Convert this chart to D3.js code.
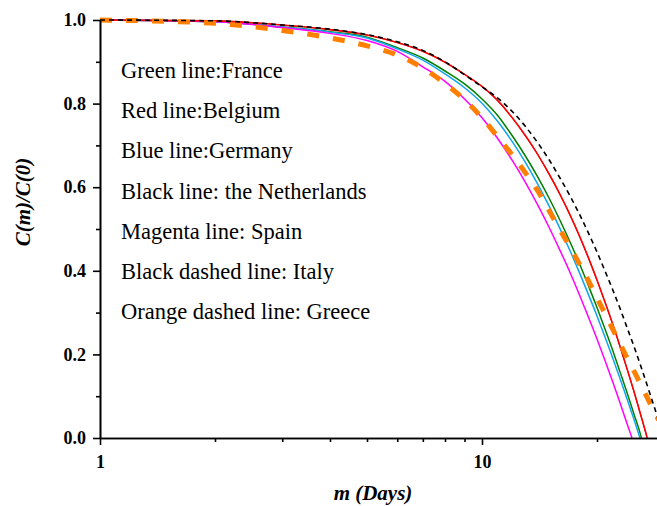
<!DOCTYPE html>
<html>
<head>
    <meta charset="utf-8">
    <title>C(m)/C(0)</title>
    <script src="https://d3js.org/d3.v7.min.js"></script>
    <style>
        body { margin: 0; background: #fff; }
        text { font-family: "Liberation Serif", "Times New Roman", serif; }
    </style>
</head>
<body>
<div id="chart"></div>
<script type="text/javascript">

    // valores: m (dias) e C(m)/C(0) para cada país
    const mFrance = [1,2,3,4,5,6,7,8,9,10,11,12,13,14,15,16,17,18,19,20,21,22,23,24,25,26,26.14];
    const cFrance = [1.000,0.996,0.983,0.972,0.959,0.934,0.909,0.878,0.847,0.811,0.771,0.723,0.674,0.624,0.573,0.521,0.469,0.417,0.364,0.312,0.260,0.209,0.157,0.107,0.057,0.008,0];

    const mBelgium = [1,2,3,4,5,6,7,8,9,10,11,12,13,14,15,16,17,18,19,20,21,22,23,24,25,26,27,27.07];
    const cBelgium = [1.000,0.998,0.988,0.977,0.964,0.946,0.925,0.899,0.870,0.841,0.807,0.766,0.723,0.678,0.631,0.583,0.534,0.483,0.431,0.378,0.325,0.272,0.218,0.164,0.111,0.057,0.004,0];

    const mGermany = [1,2,3,4,5,6,7,8,9,10,11,12,13,14,15,16,17,18,19,20,21,22,23,24,25,25.92];
    const cGermany = [1.000,0.996,0.983,0.971,0.957,0.931,0.904,0.871,0.838,0.801,0.757,0.709,0.659,0.607,0.554,0.501,0.448,0.395,0.343,0.292,0.241,0.191,0.141,0.092,0.044,0];

    // a linha da Holanda fica quase toda por baixo da vermelha
    const mNetherlands = [1,2,3,4,5,6,7,8,9,10,11,12,13,14,15,16,17,18,19,20,21,22,23,24,25,26,27,27.06];
    const cNetherlands = [1.000,0.998,0.988,0.977,0.964,0.946,0.925,0.899,0.870,0.841,0.806,0.766,0.722,0.678,0.630,0.583,0.533,0.483,0.430,0.378,0.324,0.272,0.217,0.164,0.110,0.057,0.003,0];

    const mSpain = [1,2,3,4,5,6,7,8,9,10,11,12,13,14,15,16,17,18,19,20,21,22,23,24,24.7];
    const cSpain = [1.000,0.996,0.982,0.968,0.951,0.925,0.888,0.853,0.811,0.766,0.716,0.664,0.611,0.557,0.503,0.449,0.396,0.342,0.289,0.237,0.185,0.134,0.083,0.033,0];

    const mItaly = [1,2,3,4,5,6,7,8,9,10,11,12,13,14,15,16,17,18,19,20,21,22,23,24,25,26,27,28,29];
    const cItaly = [1.000,0.998,0.988,0.978,0.965,0.948,0.927,0.900,0.869,0.840,0.813,0.781,0.745,0.706,0.665,0.622,0.579,0.535,0.490,0.445,0.399,0.354,0.309,0.263,0.219,0.174,0.129,0.085,0.042];

    const mGreece = [1,2,3,4,5,6,7,8,9,10,11,12,13,14,15,16,17,18,19,20,21,22,23,24,25,26,27,28,29];
    const cGreece = [1.000,0.992,0.975,0.957,0.938,0.916,0.885,0.848,0.809,0.766,0.720,0.677,0.634,0.591,0.543,0.498,0.457,0.416,0.376,0.335,0.297,0.260,0.225,0.191,0.160,0.129,0.099,0.070,0.043];

    const yMajor = [0, 0.2, 0.4, 0.6, 0.8, 1.0];
    const yMinor = [0.1, 0.3, 0.5, 0.7, 0.9];
    const xMajor = [1, 10];
    const xMinor = [2, 3, 4, 5, 6, 7, 8, 9, 20];

    const notes = [
        "Green line:France",
        "Red line:Belgium",
        "Blue line:Germany",
        "Black line: the Netherlands",
        "Magenta line: Spain",
        "Black dashed line: Italy",
        "Orange dashed line: Greece"
    ];

    // ordem de desenho: o que fica por baixo primeiro
    const series = [
        {m: mNetherlands, c: cNetherlands, color: "#000000", width: 0.8, dash: null},
        {m: mFrance, c: cFrance, color: "#008000", width: 1.5, dash: null},
        {m: mGermany, c: cGermany, color: "#10a4f0", width: 1.5, dash: null},
        {m: mSpain, c: cSpain, color: "#ff00ff", width: 1.5, dash: null},
        {m: mBelgium, c: cBelgium, color: "#ff0000", width: 1.6, dash: null},
        {m: mGreece, c: cGreece, color: "#ff8000", width: 5, dash: "12,14"},
        {m: mItaly, c: cItaly, color: "#000000", width: 1.6, dash: "5,4"}
    ];

    let margin = {top: 20, right: 0, bottom: 68, left: 100};
    let W = 657, H = 506;
    let w = W - margin.left - margin.right;
    let h = H - margin.top - margin.bottom;

    let svg = d3.select("#chart")
            .append("svg")
                .attr("width", W)
                .attr("height", H)
            .append("g")
                .attr("transform", "translate(" + margin.left + "," + margin.top + ")");

    // o eixo x é logarítmico; uma década mede 382 px
    let xScale = d3.scaleLog()
                    .domain([1, Math.pow(10, w / 382)])
                    .range([0, w]);

    let yScale = d3.scaleLinear()
                    .domain([0, 1])
                    .range([h, 0]);

    svg.append("clipPath")
            .attr("id", "clip")
        .append("rect")
            .attr("x", 0)
            .attr("y", -6)
            .attr("width", w)
            .attr("height", h + 6);

    let line = d3.line()
                .x(function(d) { return xScale(d[0]); })
                .y(function(d) { return yScale(d[1]); })
                .curve(d3.curveMonotoneX);

    let plot = svg.append("g").attr("clip-path", "url(#clip)");

    plot.selectAll("path")
        .data(series)
        .enter()
        .append("path")
        .attr("d", function(s) {
            return line(s.m.map(function(m, i) { return [m, s.c[i]]; }));
        })
        .attr("fill", "none")
        .attr("stroke", function(s) { return s.color; })
        .attr("stroke-width", function(s) { return s.width; })
        .attr("stroke-dasharray", function(s) { return s.dash; });

    // eixos
    let xAxis = d3.axisBottom(xScale)
                    .tickValues(xMajor)
                    .tickFormat(d3.format("d"))
                    .tickSize(7)
                    .tickPadding(10)
                    .tickSizeOuter(0);
    let xAxisMinor = d3.axisBottom(xScale)
                    .tickValues(xMinor)
                    .tickFormat("")
                    .tickSize(4)
                    .tickSizeOuter(0);
    let yAxis = d3.axisLeft(yScale)
                    .tickValues(yMajor)
                    .tickFormat(d3.format(".1f"))
                    .tickSize(7)
                    .tickPadding(7)
                    .tickSizeOuter(0);
    let yAxisMinor = d3.axisLeft(yScale)
                    .tickValues(yMinor)
                    .tickFormat("")
                    .tickSize(4)
                    .tickSizeOuter(0);

    svg.append("g").attr("transform", "translate(0," + h + ")").call(xAxisMinor);
    svg.append("g").attr("transform", "translate(0," + h + ")").call(xAxis);
    svg.append("g").call(yAxisMinor);
    svg.append("g").call(yAxis);

    svg.selectAll(".domain, .tick line")
        .attr("stroke", "#000")
        .attr("stroke-width", 1.6);
    svg.selectAll(".tick text")
        .attr("font-family", "'Liberation Serif', 'Times New Roman', serif")
        .attr("font-size", "18px")
        .attr("font-weight", "bold")
        .attr("fill", "#000");

    // legenda em texto
    svg.selectAll("text.note")
        .data(notes)
        .enter()
        .append("text")
        .attr("class", "note")
        .attr("x", 21)
        .attr("y", function(d, i) { return 58 + i * 40.2; })
        .attr("font-size", "22.5px")
        .attr("fill", "#000")
        .text(function(d) { return d; });

    // títulos dos eixos
    svg.append("text")
            .attr("x", 273)
            .attr("y", h + 62)
            .style("text-anchor", "middle")
            .attr("font-size", "21px")
            .attr("font-weight", "bold")
            .attr("font-style", "italic")
            .text("m (Days)");

    svg.append("text")
            .attr("transform", "rotate(-90)")
            .attr("x", -(202 - margin.top))
            .attr("y", 30 - margin.left)
            .style("text-anchor", "middle")
            .attr("font-size", "21px")
            .attr("font-weight", "bold")
            .attr("font-style", "italic")
            .text("C(m)/C(0)");

</script>
</body>
</html>
